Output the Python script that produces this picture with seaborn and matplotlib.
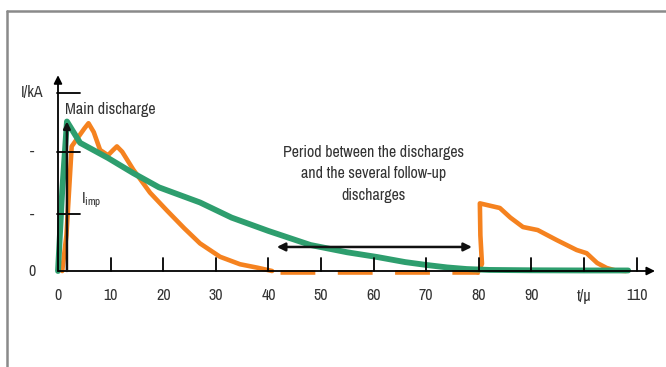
import numpy as np
import pandas as pd
import matplotlib.pyplot as plt
import seaborn as sns
from matplotlib.lines import Line2D

# first return stroke / impulse current (green)
green_t = [0.0, 0.8, 1.7, 4.2, 9.5, 14.3, 19.2, 27.0, 33.0, 40.0, 48.0, 55.0, 60.6,
           66.0, 70.0, 74.0, 77.7, 82.0, 90.0, 100.0, 108.4]
green_i = [0.0, 45.0, 84.0, 72.0, 63.5, 55.0, 47.0, 38.5, 30.0, 22.5, 14.6, 10.5, 7.9,
           5.0, 3.4, 2.0, 1.1, 0.6, 0.4, 0.3, 0.3]

# real discharge current (orange), main part
orange_t = [0.8, 1.6, 2.6, 3.8, 5.0, 5.8, 6.8, 8.0, 9.5, 10.5, 11.2, 12.2, 14.3,
            17.5, 20.7, 24.0, 27.0, 30.8, 34.6, 38.0, 40.7]
orange_i = [0.0, 20.0, 70.0, 75.0, 80.0, 83.0, 78.0, 68.0, 65.0, 68.0, 70.0, 67.0, 57.0,
            44.0, 34.0, 24.0, 15.5, 8.0, 3.8, 1.8, 0.0]

# pause between the discharges
gap_t = [42.2, 80.0]
gap_i = [-0.8, -0.8]

# follow-up discharges
follow_t = [79.8, 80.6, 80.3, 80.2, 84.0, 86.0, 88.4, 91.2, 94.8, 98.6, 100.5, 102.5,
            104.3, 106.0, 108.0]
follow_i = [-0.8, 4.0, 20.0, 38.0, 35.4, 30.0, 24.7, 23.0, 17.4, 11.8, 10.0, 4.5,
            1.7, 0.3, 0.0]

ytick_vals = [0, 32, 67, 100]
ytick_labels = ['0', '-', '-', 'I/kA']
xtick_vals = [0, 10, 20, 30, 40, 50, 60, 70, 80, 90, 100, 110]
xtick_labels = ['0', '10', '20', '30', '40', '50', '60', '70', '80', '90', 't/µ', '110']

ORANGE = '#F5821F'
GREEN = '#2E9E6E'
TXT = '#333333'

sns.set_style('white')
plt.rcParams['font.family'] = ['Archivo Narrow', 'DejaVu Sans']

fig = plt.figure(figsize=(6.66, 3.67), dpi=100)
ax = fig.add_axes([0, 0, 1, 1])

px_x = 5.26   # px per time unit
px_y = 1.78   # px per current unit
ax.set_xlim(-58 / px_x, (666 - 58) / px_x)
ax.set_ylim(-(367 - 271) / px_y, 271 / px_y)

orange_df = pd.DataFrame({'t': orange_t, 'i': orange_i})
gap_df = pd.DataFrame({'t': gap_t, 'i': gap_i})
follow_df = pd.DataFrame({'t': follow_t, 'i': follow_i})
green_df = pd.DataFrame({'t': green_t, 'i': green_i})

sns.lineplot(data=orange_df, x='t', y='i', sort=False, color=ORANGE, lw=3.3, ax=ax,
             solid_joinstyle='round')
sns.lineplot(data=gap_df, x='t', y='i', sort=False, color=ORANGE, lw=3.3, ax=ax,
             dashes=False)
ax.lines[-1].set_dashes([7.6, 4.9])
ax.lines[-1].set_dash_capstyle('butt')
sns.lineplot(data=follow_df, x='t', y='i', sort=False, color=ORANGE, lw=3.3, ax=ax,
             solid_joinstyle='round')
sns.lineplot(data=green_df, x='t', y='i', sort=False, color=GREEN, lw=4.2, ax=ax,
             solid_joinstyle='round', solid_capstyle='round')

# axes with arrows
for s in ax.spines.values():
    s.set_visible(False)
ax.annotate('', xy=(113.5, 0), xytext=(0, 0),
            arrowprops=dict(arrowstyle='-|>', color='black', lw=1.3, mutation_scale=12,
                            shrinkA=0, shrinkB=0))
ax.annotate('', xy=(0, 110), xytext=(0, 0),
            arrowprops=dict(arrowstyle='-|>', color='black', lw=1.3, mutation_scale=12,
                            shrinkA=0, shrinkB=0))

# ticks
for t in xtick_vals[1:]:
    ax.plot([t, t], [0, 13 / px_y], color='black', lw=1.3)
for v in ytick_vals[1:]:
    ax.plot([-0.2, 22 / px_x], [v, v], color='black', lw=1.3)
for t, lab in zip(xtick_vals, xtick_labels):
    ax.text(t, -25 / px_y, lab, ha='center', va='center', fontsize=11.5, color=TXT)
for v, lab in zip(ytick_vals, ytick_labels):
    ax.text(-26 / px_x, v, lab, ha='center', va='center', fontsize=11.5, color=TXT)

# impulse arrow and labels
ax.annotate('', xy=(1.7, 84), xytext=(1.7, 0),
            arrowprops=dict(arrowstyle='-|>', color='#111111', lw=1.8, mutation_scale=10,
                            shrinkA=0, shrinkB=0))
ax.text(1.4, 91, 'Main discharge', ha='left', va='center', fontsize=11.5, color=TXT)
ax.text(4.3, 40, r'I$_{\mathregular{imp}}$', ha='left', va='center', fontsize=11.5, color=TXT)

ax.annotate('', xy=(41.6, 13.5), xytext=(78.7, 13.5),
            arrowprops=dict(arrowstyle='<|-|>', color='#111111', lw=1.8, mutation_scale=12,
                            shrinkA=0, shrinkB=0))
ax.text(60.0, 54.5, 'Period between the discharges\nand the several follow-up\ndischarges',
        ha='center', va='center', fontsize=11.5, color=TXT, linespacing=1.55)

ax.set_xticks([])
ax.set_yticks([])
ax.set_xlabel('')
ax.set_ylabel('')

# grey frame
fig.add_artist(Line2D([7 / 666, 7 / 666], [0, 1 - 11 / 367], color='#8a8a8a', lw=1.8,
                      transform=fig.transFigure))
fig.add_artist(Line2D([7 / 666, 1], [1 - 11 / 367, 1 - 11 / 367], color='#8a8a8a', lw=1.8,
                      transform=fig.transFigure))

fig.savefig('out.png', dpi=100)
